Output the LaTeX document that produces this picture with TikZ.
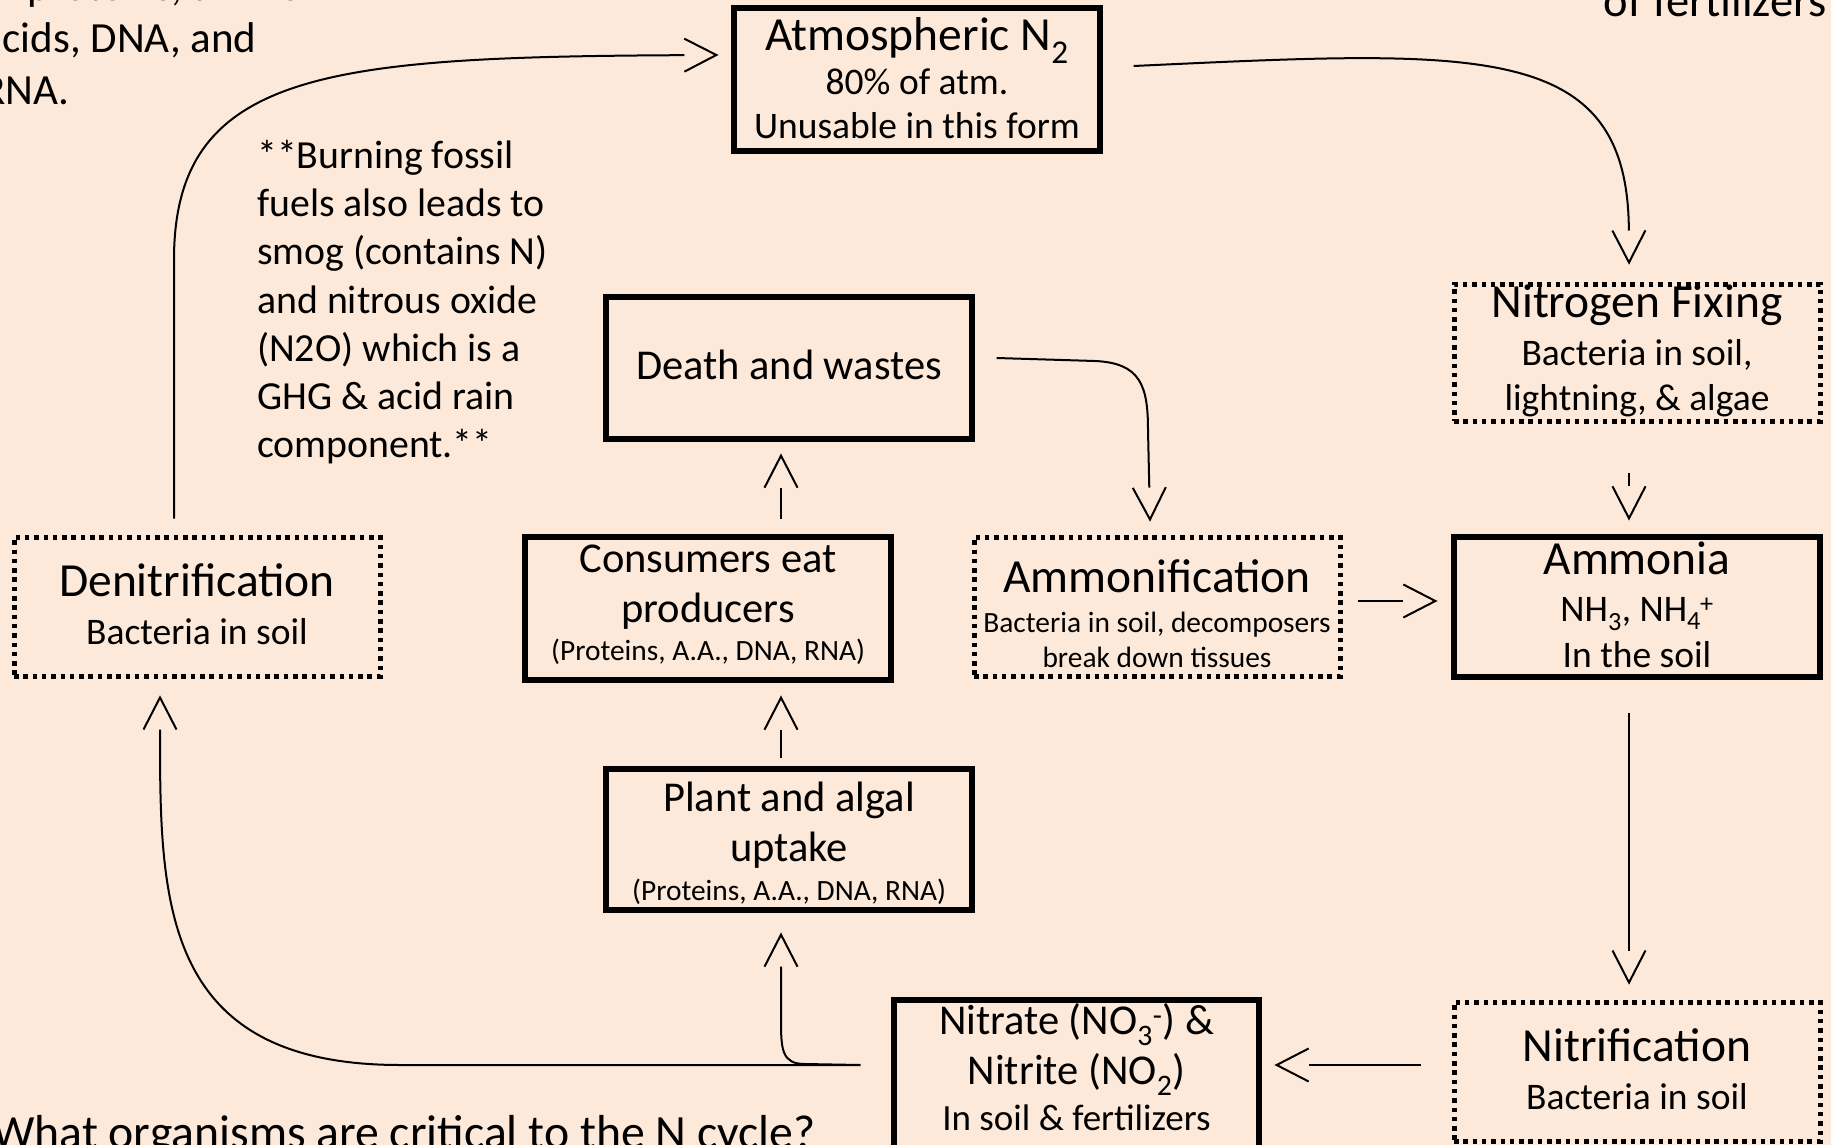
\documentclass[tikz,border=0pt]{standalone}
\usepackage{fontspec}
\setmainfont{Carlito}
\usetikzlibrary{arrows.meta}
\definecolor{bgpeach}{HTML}{FDE9D9}

\pgfdeclarearrow{
  name = OpenV,
  parameters = {\the\pgfarrowlength,\the\pgfarrowwidth},
  setup code = {
    \pgfarrowssettipend{\pgfarrowlength}
    \pgfarrowssetlineend{0pt}
    \pgfarrowssetbackend{0pt}
    \pgfarrowssavethe\pgfarrowlength
    \pgfarrowssavethe\pgfarrowwidth
  },
  drawing code = {
    \pgfsetdash{}{0pt}
    \pgfsetmiterjoin
    \pgfpathmoveto{\pgfqpoint{0pt}{.5\pgfarrowwidth}}
    \pgfpathlineto{\pgfqpoint{\pgfarrowlength}{0pt}}
    \pgfpathlineto{\pgfqpoint{0pt}{-.5\pgfarrowwidth}}
    \pgfusepathqstroke
  },
  defaults = {length = 32pt, width = 32pt}
}

\newcommand\TitleF{\fontsize{47.5}{50}\selectfont}
\newcommand\SmallF{\fontsize{29.4}{35}\selectfont}

\tikzset{
  box/.style={draw, line width=5.3pt, rectangle, inner sep=0pt},
  dotbox/.style={box, line width=5pt, dash pattern=on 4.5pt off 4.8pt},
  boxtext/.style={inner sep=0pt, align=center, text=black},
  conn/.style={line width=2pt, -{OpenV[length=32pt,width=33pt]}},
  freetext/.style={inner sep=0pt, text=black},
}

\begin{document}
\begin{tikzpicture}[x=1pt,y=-1pt]
\useasboundingbox (0,0) rectangle (1831,1145);
\clip (0,0) rectangle (1831,1145);
\fill[bgpeach] (0,0) rectangle (1831,1145);

% boxes
\node[box, minimum width=366pt, minimum height=143pt] (atm) at (917,79.5) {};
\node[dotbox, minimum width=366pt, minimum height=137pt] (nfix) at (1637,352.5) {};
\node[box, minimum width=366pt, minimum height=140pt] (ammonia) at (1637,607) {};
\node[dotbox, minimum width=366pt, minimum height=139pt] (denit) at (197,606.5) {};
\node[dotbox, minimum width=366pt, minimum height=139pt] (ammonif) at (1157,606.5) {};
\node[box, minimum width=366pt, minimum height=143pt] (cons) at (708,608.5) {};
\node[box, minimum width=366pt, minimum height=142pt] (death) at (789,368) {};
\node[box, minimum width=366pt, minimum height=141pt] (plant) at (789,839.5) {};
\node[box, minimum width=365pt, minimum height=148pt] (nitrate) at (1076.5,1074) {};
\node[dotbox, minimum width=366pt, minimum height=139pt] (nitrif) at (1637,1071.5) {};

% box texts
\node[boxtext, font=\fontsize{37.5}{44}\selectfont] (atm-t) at ([yshift=1pt]atm.center)
  {{\TitleF Atmospheric N\textsubscript{2}}\\[0pt]80\% of atm.\\Unusable in this form};
\node[boxtext, font=\fontsize{37.5}{45}\selectfont] (nfix-t) at ([yshift=1.5pt]nfix.center)
  {{\TitleF Nitrogen Fixing}\\[3pt]Bacteria in soil,\\lightning, \& algae};
\node[boxtext, font=\fontsize{37.5}{46}\selectfont] (ammonia-t) at ([yshift=2pt]ammonia.center)
  {{\TitleF Ammonia}\\[1pt]NH\textsubscript{3}, NH\textsubscript{4}\kern-1pt\textsuperscript{+}\\In the soil};
\node[boxtext, font=\fontsize{37.5}{48.5}\selectfont] (denit-t) at ([yshift=2.3pt]denit.center)
  {{\TitleF Denitrification}\\Bacteria in soil};
\node[boxtext, font=\fontsize{29.4}{35}\selectfont] (ammonif-t) at ([yshift=-7pt]ammonif.center)
  {{\TitleF Ammonification}\\[5.5pt]Bacteria in soil, decomposers\\break down tissues};
\node[boxtext, font=\fontsize{42.5}{50}\selectfont] (cons-t) at ([yshift=4pt]cons.center)
  {Consumers eat\\producers\\[-11.5pt]{\SmallF (Proteins, A.A., DNA, RNA)}};
\node[boxtext, font=\fontsize{42.5}{50}\selectfont] (death-t) at ([yshift=3.5pt]death.center)
  {Death and wastes};
\node[boxtext, font=\fontsize{42.5}{50}\selectfont] (plant-t) at ([yshift=-4pt]plant.center)
  {Plant and algal\\uptake\\[-10.5pt]{\SmallF (Proteins, A.A., DNA, RNA)}};
\node[boxtext, font=\fontsize{42.5}{50}\selectfont] (nitrate-t) at ([yshift=7pt]nitrate.center)
  {Nitrate (NO\textsubscript{3}\textsuperscript{-}) \&\\Nitrite (NO\textsubscript{2})\\[-4.5pt]{\fontsize{37}{44}\selectfont In soil \& fertilizers}};
\node[boxtext, font=\fontsize{37.5}{48}\selectfont] (nitrif-t) at ([yshift=2.3pt]nitrif.center)
  {{\TitleF Nitrification}\\Bacteria in soil};

% free texts
\node[freetext, anchor=north west, align=left, font=\fontsize{39.8}{48.2}\selectfont] (note) at (257,140)
  {**Burning fossil\\fuels also leads to\\smog (contains N)\\and nitrous oxide\\(N2O) which is a\\GHG \& acid rain\\component.**};
\node[freetext, anchor=north west, align=left, font=\fontsize{43}{52}\selectfont] (topleft) at (-18,-29.5)
  {of proteins, amino\\acids, DNA, and\\RNA.};
\node[freetext, anchor=base east, font=\fontsize{46.5}{55}\selectfont] (topright) at (1827,17) {of fertilizers};
\node[freetext, anchor=base west, font=\fontsize{47.7}{56}\selectfont] (question) at (-8,1148)
  {What organisms are critical to the N cycle?};

% connectors
\draw[conn] ([xshift=-23pt,yshift=16pt]denit.north) -- ++(0,-259)
  .. controls (174,70) and (330,57) .. ([xshift=-15pt,yshift=24.5pt]atm.west);
\draw[conn] ([xshift=31pt,yshift=13.5pt]atm.east)
  .. controls (1480,50) and (1628,40) .. ([xshift=-8pt,yshift=19pt]nfix.north);
\draw[conn] ([xshift=-8pt,yshift=-49pt]nfix.south) -- ([xshift=-8pt,yshift=16pt]ammonia.north);
\draw[conn] ([xshift=-8pt,yshift=-33pt]ammonia.south) -- ([xshift=-8pt,yshift=17pt]nitrif.north);
\draw[conn] ([xshift=-31pt,yshift=6.5pt]nitrif.west) -- ([xshift=15pt,yshift=9pt]nitrate.east);
\draw[conn] ([xshift=-31pt,yshift=9pt]nitrate.west) -- (400,1065)
  .. controls (160,1065) and (160,900) .. ([xshift=-37pt,yshift=-19pt]denit.south);
\draw[conn] ([xshift=-31pt,yshift=9pt]nitrate.west) -- (805,1064)
  .. controls (782,1064) and (781,1050) .. (781,1020) -- ([xshift=-8pt,yshift=-22pt]plant.south);
\draw[conn] ([xshift=-8pt,yshift=8pt]plant.north) -- ([xshift=73pt,yshift=-15pt]cons.south);
\draw[conn] ([xshift=73pt,yshift=15pt]cons.north) -- ([xshift=-8pt,yshift=-14pt]death.south);
\draw[conn] ([xshift=22pt,yshift=10pt]death.east) -- (1095,361)
  .. controls (1140,363) and (1148,385) .. (1148,430) -- ([xshift=-7pt,yshift=15pt]ammonif.north);
\draw[conn] ([xshift=15pt,yshift=5.5pt]ammonif.east) -- ([xshift=-16pt,yshift=6pt]ammonia.west);
\end{tikzpicture}
\end{document}
